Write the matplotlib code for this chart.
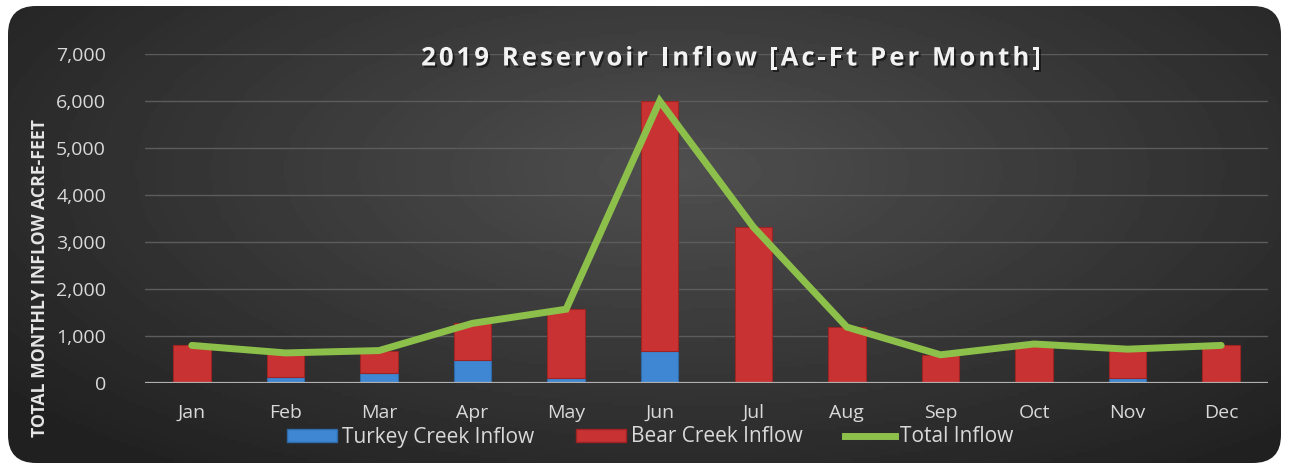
import numpy as np
from matplotlib import pyplot as plt
from matplotlib.patches import FancyBboxPatch, Patch
from matplotlib.lines import Line2D
import matplotlib.patheffects as pe

months = ['Jan', 'Feb', 'Mar', 'Apr', 'May', 'Jun', 'Jul', 'Aug', 'Sep', 'Oct', 'Nov', 'Dec']
turkey = [30, 130, 210, 490, 100, 690, 20, 30, 10, 10, 100, 30]
bear = [770, 510, 480, 780, 1470, 5310, 3300, 1160, 590, 820, 620, 770]
total = [t + b for t, b in zip(turkey, bear)]
yticks = [0, 1000, 2000, 3000, 4000, 5000, 6000, 7000]
title = '2019 Reservoir Inflow [Ac-Ft Per Month]'

W, H = 1289, 471
fig = plt.figure(figsize=(W / 100, H / 100), dpi=100)
fig.patch.set_facecolor('white')

# background panel with a radial-ish gradient, rounded corners
bg = fig.add_axes([0, 0, 1, 1], zorder=-1)
bg.set_xlim(0, W)
bg.set_ylim(H, 0)
bg.axis('off')
gx, gy = np.meshgrid(np.linspace(0, W, 400), np.linspace(0, H, 150))
d = np.sqrt(((gx - 680) / 760) ** 2 + ((gy - 170) / 330) ** 2)
shade = np.clip(0.31 - 0.16 * d, 0.13, 0.31)
img = bg.imshow(shade, cmap='gray', vmin=0, vmax=1, extent=(0, W, H, 0), aspect='auto')
panel = FancyBboxPatch((30, 28), W - 60, H - 58, boxstyle='round,pad=22,rounding_size=28',
                       fc='none', ec='none')
bg.add_patch(panel)
img.set_clip_path(panel)

ax = fig.add_axes([145 / W, (H - 383) / H, (1268 - 145) / W, (383 - 54) / H])
ax.set_facecolor('none')
x = np.arange(len(months))

for y in yticks[1:]:
    ax.axhline(y, color='#5c5c5c', lw=1, zorder=0)
ax.axhline(0, color='#b0b0b0', lw=1.6, zorder=3)

ax.bar(x, turkey, width=0.4, color='#3f87d2', edgecolor='#2f6aa8', lw=0.8, zorder=2)
ax.bar(x, bear, width=0.4, bottom=turkey, color='#c93232', edgecolor='#9e2323', lw=0.8, zorder=2)
ax.plot(x, total, color='#8dc04b', lw=5, solid_capstyle='round', solid_joinstyle='miter', zorder=4)

ax.set_xlim(-0.5, len(months) - 0.5)
ax.set_ylim(0, 7000)
ax.set_yticks(yticks)
ax.set_yticklabels([f'{v:,}' for v in yticks])
ax.set_xticks(x)
ax.set_xticklabels(months)
ax.tick_params(length=0, colors='#d9d9d9', labelsize=14)
ax.tick_params(axis='y', pad=28)
ax.tick_params(axis='x', pad=15)
for lab in ax.get_xticklabels() + ax.get_yticklabels():
    lab.set_fontfamily('Open Sans')
for s in ax.spines.values():
    s.set_visible(False)

# letter-spaced title, drawn character by character
renderer = fig.canvas.get_renderer()
tprops = dict(color='#f2f2f2', fontsize=18.5, fontweight='bold', family='Open Sans', va='center',
              path_effects=[pe.withSimplePatchShadow(offset=(1.5, -1.5), shadow_rgbFace='black', alpha=0.5)])

def text_width(s):
    t = fig.text(0, 0, s + '|', **tprops)
    r = fig.text(0, 0, '|', **tprops)
    w = t.get_window_extent(renderer).width - r.get_window_extent(renderer).width
    t.remove()
    r.remove()
    return w

spacing = 3.0
full = text_width(title) + spacing * (len(title) - 1)
x0 = 731 - full / 2
for i, ch in enumerate(title):
    if ch == ' ':
        continue
    px = x0 + text_width(title[:i]) + spacing * i
    fig.text(px / W, (H - 58) / H, ch, ha='left', **tprops)

fig.text(40 / W, (H - 278) / H, 'TOTAL MONTHLY INFLOW ACRE-FEET', rotation=90, color='#e6e6e6',
         fontsize=12.7, fontweight='bold', family='Open Sans', ha='center', va='center')

handles = [Patch(fc='#3f87d2', ec='#2f6aa8'), Patch(fc='#c93232', ec='#9e2323'),
           Line2D([0], [0], color='#8dc04b', lw=5)]
leg = fig.legend(handles, ['Turkey Creek Inflow', 'Bear Creek Inflow', 'Total Inflow'],
                 loc='center', bbox_to_anchor=(650 / W, (H - 437) / H), ncol=3, frameon=False,
                 handlelength=2.4, handleheight=0.6, columnspacing=2.0, handletextpad=0.25,
                 prop={'family': 'Open Sans', 'size': 15})
for t in leg.get_texts():
    t.set_color('#d9d9d9')

fig.savefig('out.png', dpi=100, facecolor='white')
